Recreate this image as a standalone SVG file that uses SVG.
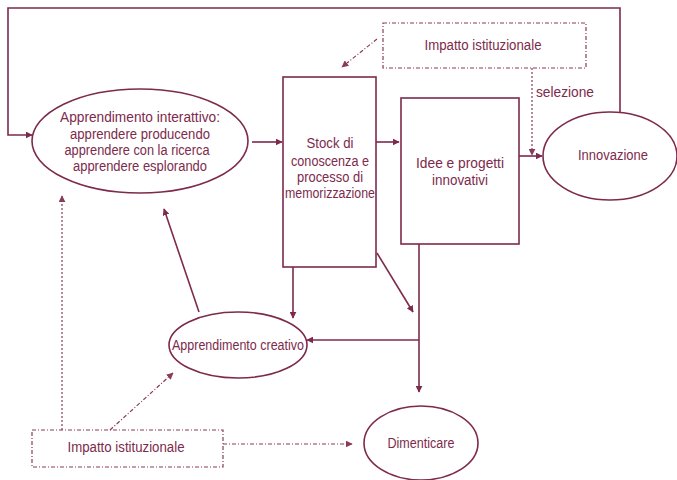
<svg xmlns="http://www.w3.org/2000/svg" width="677" height="480" viewBox="0 0 677 480">
<defs>
<style>
.s{fill:none;stroke:#7d2a4c;stroke-width:1.6}
.d{fill:none;stroke:#8a3a5a;stroke-width:1.2;stroke-dasharray:4 2 1 2}
.dt{fill:none;stroke:#8a3a5a;stroke-width:1.2;stroke-dasharray:2 2}
.t{font-family:"Liberation Sans",Arial,sans-serif;font-size:14px;fill:#7d2a4c;text-anchor:middle}
</style>
<marker id="a" viewBox="0 0 10 10" refX="9" refY="5" markerWidth="7" markerHeight="7" markerUnits="userSpaceOnUse" orient="auto">
<path d="M0,0 L10,5 L0,10 z" fill="#7d2a4c"/>
</marker>
<marker id="b" viewBox="0 0 10 10" refX="9" refY="5" markerWidth="7" markerHeight="7" markerUnits="userSpaceOnUse" orient="auto">
<path d="M0,0 L10,5 L0,10 z" fill="#8a3a5a"/>
</marker>
</defs>
<rect width="677" height="480" fill="#fff"/>
<g id="connectors">
<polyline class="s" points="620,113 620,8 8,8 8,135 32,135" marker-end="url(#a)"/>
<line class="s" x1="252" y1="142" x2="282" y2="142" marker-end="url(#a)"/>
<line class="s" x1="376" y1="142" x2="399" y2="142" marker-end="url(#a)"/>
<line class="s" x1="519" y1="156" x2="542" y2="156" marker-end="url(#a)"/>
<line class="s" x1="293" y1="267" x2="293" y2="318" marker-end="url(#a)"/>
<line class="s" x1="377" y1="253" x2="413" y2="312" marker-end="url(#a)"/>
<polyline class="s" points="419,340 307,340" marker-end="url(#a)"/>
<line class="s" x1="419" y1="244" x2="419" y2="392" marker-end="url(#a)"/>
<line class="s" x1="199" y1="312" x2="164" y2="209" marker-end="url(#a)"/>
<line class="d" x1="377" y1="39" x2="342" y2="67" marker-end="url(#b)"/>
<line class="dt" x1="532" y1="68" x2="532" y2="155" marker-end="url(#b)"/>
<line class="dt" x1="62" y1="430" x2="62" y2="196" marker-end="url(#b)"/>
<line class="d" x1="110" y1="430" x2="173" y2="373" marker-end="url(#b)"/>
<line class="d" x1="223" y1="444" x2="352" y2="444" marker-end="url(#b)"/>
<text class="t" x="536" y="97" style="text-anchor:start" textLength="58" lengthAdjust="spacingAndGlyphs">selezione</text>
</g>
<g id="apprendimento-interattivo">
<ellipse class="s" cx="140" cy="141" rx="108" ry="52"/>
<text class="t" x="140" y="122" textLength="160" lengthAdjust="spacingAndGlyphs">Apprendimento interattivo:</text>
<text class="t" x="140" y="139" textLength="140" lengthAdjust="spacingAndGlyphs">apprendere producendo</text>
<text class="t" x="137" y="155" textLength="145" lengthAdjust="spacingAndGlyphs">apprendere con la ricerca</text>
<text class="t" x="140" y="171" textLength="134" lengthAdjust="spacingAndGlyphs">apprendere esplorando</text>
</g>
<g id="stock">
<rect class="s" x="283" y="77" width="93" height="190"/>
<text class="t" x="330" y="148" textLength="47" lengthAdjust="spacingAndGlyphs">Stock di</text>
<text class="t" x="330" y="166" textLength="78" lengthAdjust="spacingAndGlyphs">conoscenza e</text>
<text class="t" x="330" y="182" textLength="66" lengthAdjust="spacingAndGlyphs">processo di</text>
<text class="t" x="330" y="198" textLength="90" lengthAdjust="spacingAndGlyphs">memorizzazione</text>
</g>
<g id="idee">
<rect class="s" x="401" y="98" width="118" height="146"/>
<text class="t" x="460" y="168" textLength="88" lengthAdjust="spacingAndGlyphs">Idee e progetti</text>
<text class="t" x="460" y="185" textLength="56" lengthAdjust="spacingAndGlyphs">innovativi</text>
</g>
<g id="innovazione">
<ellipse class="s" cx="610" cy="156" rx="67" ry="44"/>
<text class="t" x="613" y="160" textLength="70" lengthAdjust="spacingAndGlyphs">Innovazione</text>
</g>
<g id="impatto-top">
<rect class="d" x="383" y="23" width="203" height="45"/>
<text class="t" x="483" y="50" textLength="117" lengthAdjust="spacingAndGlyphs">Impatto istituzionale</text>
</g>
<g id="apprendimento-creativo">
<ellipse class="s" cx="238" cy="345" rx="69" ry="33"/>
<text class="t" x="238" y="350" textLength="132" lengthAdjust="spacingAndGlyphs">Apprendimento creativo</text>
</g>
<g id="dimenticare">
<ellipse class="s" cx="421" cy="443" rx="57" ry="37"/>
<text class="t" x="421" y="448" textLength="67" lengthAdjust="spacingAndGlyphs">Dimenticare</text>
</g>
<g id="impatto-bottom">
<rect class="d" x="32" y="430" width="191" height="37"/>
<text class="t" x="126" y="452" textLength="117" lengthAdjust="spacingAndGlyphs">Impatto istituzionale</text>
</g>
</svg>
